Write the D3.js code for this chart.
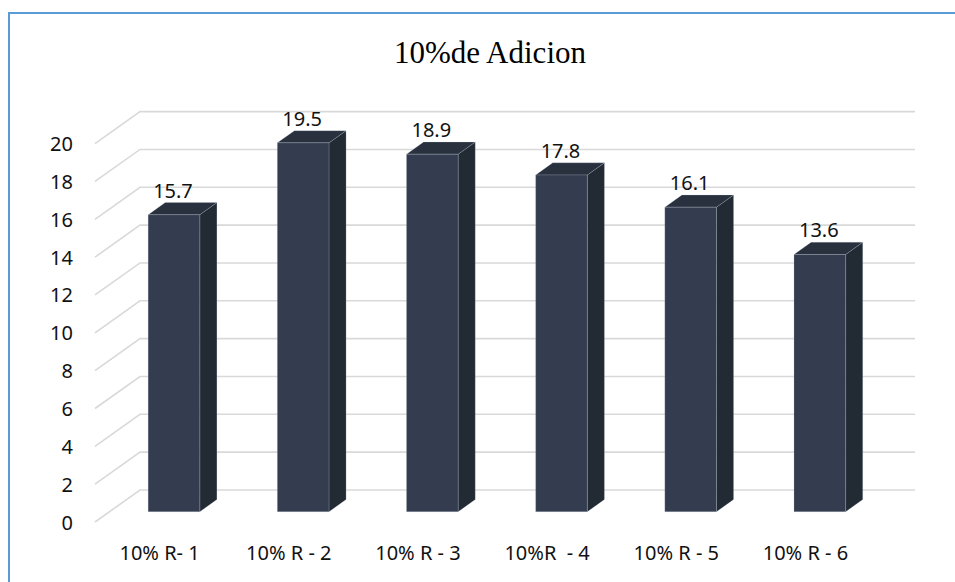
<!DOCTYPE html>
<html>
<head>
<meta charset="utf-8">
<script src="https://cdn.jsdelivr.net/npm/d3@7"></script>
<style>
  html, body { margin: 0; padding: 0; background: #ffffff; }
  svg { display: block; }
  text { font-family: "Noto Sans", "Open Sans", sans-serif; }
</style>
</head>
<body>
<svg id="chart" width="955" height="582"></svg>
<script>
// Compressive strength by sample, 10% addition
const categories = ["10% R- 1", "10% R - 2", "10% R - 3", "10%R  - 4", "10% R - 5", "10% R - 6"];
const values = [15.7, 19.5, 18.9, 17.8, 16.1, 13.6];
const yTicks = [0, 2, 4, 6, 8, 10, 12, 14, 16, 18, 20];
const chartTitle = "10%de Adicion";

const svg = d3.select("#chart");
const W = 955, H = 582;

// Oblique 3-D projection: z = 0 is the back wall, z = 1 is the front edge of the floor
const depthDX = -45, depthDY = 32;
const proj = (x, y, z) => [x + depthDX * z, y + depthDY * z];

// Back wall scales
const wallLeft = 140, wallRight = 915;
const y = d3.scaleLinear().domain([0, 20]).range([490, 111.6]);
const x = d3.scaleBand().domain(categories).range([wallLeft, wallRight])
  .paddingInner(0.6).paddingOuter(0.3);

// Front plane scales (axis labels live here)
const yFront = d3.scaleLinear().domain([0, 20]).range([y(0) + depthDY, y(20) + depthDY]);
const xFront = d3.scaleBand().domain(categories).range([wallLeft + depthDX, wallRight + depthDX])
  .paddingInner(0.6).paddingOuter(0.3);

// Bars occupy this slice of the depth
const zFront = 0.68, zBack = 0.30;

// Outer frame (top and left edges)
svg.append("rect")
  .attr("x", 9).attr("y", 13)
  .attr("width", W + 20).attr("height", H + 20)
  .attr("fill", "none")
  .attr("stroke", "#5b9bd5")
  .attr("stroke-width", 2);

// Title
svg.append("text")
  .attr("x", 490).attr("y", 63)
  .attr("text-anchor", "middle")
  .style("font-family", "'Liberation Serif', 'Times New Roman', serif")
  .style("font-size", "31px")
  .attr("fill", "#000")
  .text(chartTitle);

// Gridlines: back wall horizontals plus the left-wall diagonals
const grid = svg.append("g")
  .attr("stroke", "#d9d9d9")
  .attr("stroke-width", 1.6)
  .attr("fill", "none");
yTicks.forEach(t => {
  const yb = y(t);
  const f = proj(wallLeft, yb, 1);
  grid.append("path").attr("d", `M${f[0]},${f[1]}L${wallLeft},${yb}L${wallRight},${yb}`);
});

// Y axis labels
svg.append("g")
  .attr("transform", "translate(73,0)")
  .call(d3.axisLeft(yFront).tickValues(yTicks).tickSize(0).tickPadding(0))
  .call(g => g.select(".domain").remove())
  .call(g => g.selectAll("text")
    .style("font-family", "'Noto Sans', sans-serif")
    .style("font-size", "20px")
    .attr("fill", "#111")
    .attr("dy", "0.35em"));

// X axis labels
svg.append("g")
  .attr("transform", "translate(0,560)")
  .call(d3.axisBottom(xFront).tickSize(0).tickPadding(0))
  .call(g => g.select(".domain").remove())
  .call(g => g.selectAll("text")
    .attr("y", 0).attr("dy", 0)
    .style("font-family", "'Noto Sans', sans-serif")
    .style("font-size", "20px")
    .style("white-space", "pre")
    .attr("fill", "#111"));

// 3-D columns
const colFront = "#333d4f", colSide = "#222a34", colTop = "#29313e";
const bars = svg.append("g");
categories.forEach((c, i) => {
  const v = values[i];
  const x0 = x(c), x1 = x(c) + x.bandwidth();
  const yT = y(v), yB = y(0);
  const pt = (xx, yy, z) => proj(xx, yy, z).join(",");
  const g = bars.append("g")
    .attr("stroke", "rgba(200,210,225,0.35)")
    .attr("stroke-width", 0.6)
    .attr("stroke-linejoin", "round");
  // right side face
  g.append("path").attr("fill", colSide)
    .attr("d", `M${pt(x1, yT, zFront)}L${pt(x1, yT, zBack)}L${pt(x1, yB, zBack)}L${pt(x1, yB, zFront)}Z`);
  // top face
  g.append("path").attr("fill", colTop)
    .attr("d", `M${pt(x0, yT, zFront)}L${pt(x0, yT, zBack)}L${pt(x1, yT, zBack)}L${pt(x1, yT, zFront)}Z`);
  // front face
  g.append("path").attr("fill", colFront)
    .attr("d", `M${pt(x0, yT, zFront)}L${pt(x1, yT, zFront)}L${pt(x1, yB, zFront)}L${pt(x0, yB, zFront)}Z`);

  // value label above the column
  const cx = proj((x0 + x1) / 2, yT, zFront)[0];
  const topBack = proj(x0, yT, zBack)[1];
  svg.append("text")
    .attr("x", cx - 1).attr("y", topBack - 5)
    .attr("text-anchor", "middle")
    .style("font-family", "'Noto Sans', sans-serif")
    .style("font-size", "20px")
    .attr("fill", "#111")
    .text(v.toFixed(1));
});
</script>
</body>
</html>
